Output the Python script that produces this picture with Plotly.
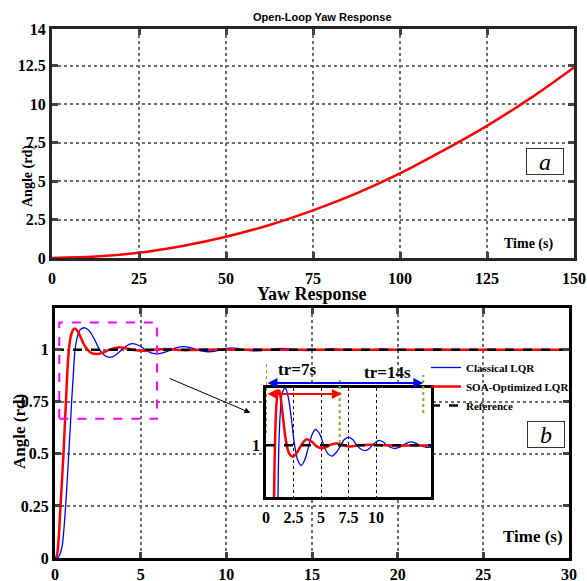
import plotly.graph_objects as go

W, H = 587, 581

# --- data: open-loop yaw response (top panel)
t_open = [0, 12.5, 25, 37.5, 50, 62.5, 75, 87.5, 100, 112.5, 125, 137.5, 150]
yaw_open = [0, 0.09, 0.34, 0.78, 1.38, 2.15, 3.1, 4.2, 5.5, 7.0, 8.6, 10.4, 12.4]

# --- data: closed-loop yaw response (bottom panel)
t_lqr = [0, 0.2, 0.4, 0.5, 0.62, 0.72, 0.8, 0.9, 0.97, 1.07, 1.17, 1.3, 1.46, 1.75, 2.0,
         2.3, 2.6, 2.9, 3.2, 3.5, 3.85, 4.2, 4.5, 4.9, 5.25, 5.6, 6.0, 6.4, 6.75, 7.1,
         7.5, 7.9, 8.25, 8.6, 9.0, 9.35, 9.65, 10.0, 10.3, 10.65, 11.0, 11.35, 11.7,
         12.1, 12.45, 12.8, 13.2, 13.6, 14.0, 14.4, 14.8, 15.5, 16.2, 17.0, 17.7, 18.5,
         19.2, 20.0, 20.7, 21.5, 22.2, 23.0, 23.7, 24.5, 25.2, 26.0, 30.0]
yaw_lqr = [0, 0.005, 0.05, 0.12, 0.25, 0.38, 0.5, 0.64, 0.75, 0.88, 1.0, 1.06, 1.095, 1.105, 1.09,
           1.05, 1.0, 0.972, 0.963, 0.972, 0.996, 1.02, 1.029, 1.02, 1.0, 0.985, 0.98, 0.987, 0.998, 1.01,
           1.015, 1.01, 1.0, 0.993, 0.99, 0.993, 1.0, 1.006, 1.009, 1.006, 1.0, 0.996, 0.994,
           0.996, 1.0, 1.004, 1.006, 1.004, 1.0, 0.997, 0.996, 1.0, 1.004, 1.0, 0.997, 1.0,
           1.003, 1.0, 0.998, 1.0, 1.002, 1.0, 0.9985, 1.0, 1.001, 1.0, 1.0]

t_soa = [0, 0.1, 0.2, 0.3, 0.4, 0.5, 0.62, 0.7, 0.78, 0.87, 0.97, 1.1, 1.2, 1.35, 1.55,
         1.8, 2.1, 2.45, 2.8, 3.2, 3.7, 4.2, 4.6, 5.1, 5.5, 5.9, 6.4, 6.9, 7.4, 7.9, 8.4,
         9.5, 11.0, 30.0]
yaw_soa = [0, 0.01, 0.08, 0.22, 0.36, 0.51, 0.72, 0.86, 0.97, 1.04, 1.08, 1.10, 1.10, 1.085, 1.05,
           1.01, 0.985, 0.979, 0.986, 1.0, 1.011, 1.006, 0.998, 0.9945, 0.997, 1.001, 1.003, 1.001, 0.998, 0.998, 1.0,
           1.001, 1.0, 1.0]

t_ref = [0, 30]
yaw_ref = [1, 1]

# axis ticks
top_xticks = [0, 25, 50, 75, 100, 125, 150]
top_yticks = [0, 2.5, 5, 7.5, 10, 12.5, 14.9]
top_ytext = ["0", "2.5", "5", "7.5", "10", "12.5", "14"]
bot_xticks = [0, 5, 10, 15, 20, 25, 30]
bot_yticks = [0, 0.25, 0.5, 0.75, 1]
bot_ytext = ["0", "0.25", "0.5", "0.75", "1"]
ins_xticks = [0, 2.5, 5, 7.5, 10]


def px(x):
    return x / W


def py(y):
    return 1 - y / H


SERIF = "Liberation Serif"
tickfont = dict(family=SERIF, size=16, color="black", weight="bold")
BLUE = "#0000ff"
RED = "#ff0000"

fig = go.Figure()

# top panel
fig.add_trace(go.Scatter(x=t_open, y=yaw_open, mode="lines", line=dict(color=RED, width=2.5, shape="spline"),
                         showlegend=False, xaxis="x", yaxis="y"))

# bottom panel
fig.add_trace(go.Scatter(x=t_lqr, y=yaw_lqr, mode="lines", name="Classical LQR",
                         line=dict(color=BLUE, width=1.3, shape="spline"), xaxis="x2", yaxis="y2"))
fig.add_trace(go.Scatter(x=t_soa, y=yaw_soa, mode="lines", name="SOA-Optimized LQR",
                         line=dict(color=RED, width=2.5, shape="spline"), xaxis="x2", yaxis="y2"))
fig.add_trace(go.Scatter(x=t_ref, y=yaw_ref, mode="lines", name="Reference",
                         line=dict(color="black", width=2.5, dash="dash"), xaxis="x2", yaxis="y2"))

# inset (zoom on the transient)
fig.add_trace(go.Scatter(x=t_lqr, y=yaw_lqr, mode="lines", showlegend=False,
                         line=dict(color=BLUE, width=1.3, shape="spline"), xaxis="x3", yaxis="y3"))
fig.add_trace(go.Scatter(x=t_soa, y=yaw_soa, mode="lines", showlegend=False,
                         line=dict(color=RED, width=2.5, shape="spline"), xaxis="x3", yaxis="y3"))
fig.add_trace(go.Scatter(x=t_ref, y=yaw_ref, mode="lines", showlegend=False,
                         line=dict(color="black", width=2.5, dash="dash"), xaxis="x3", yaxis="y3"))

main_ax = dict(showline=True, mirror="allticks", ticks="inside", ticklen=6, tickwidth=3,
               showgrid=True, griddash="dot", gridcolor="#6e6e6e", gridwidth=2,
               zeroline=False, tickfont=tickfont, automargin=False)

fig.update_layout(
    template="none",
    width=W, height=H,
    margin=dict(l=0, r=0, t=0, b=0),
    paper_bgcolor="white", plot_bgcolor="white",
    xaxis=dict(main_ax, domain=[px(52), px(574)], range=[0, 150], tickvals=top_xticks,
               linecolor="#262626", linewidth=3, anchor="y", ticklabelstandoff=4),
    yaxis=dict(main_ax, domain=[py(258), py(29)], range=[0, 14.9], tickvals=top_yticks,
               ticktext=top_ytext, linecolor="#262626", linewidth=3, anchor="x"),
    xaxis2=dict(main_ax, domain=[px(55), px(569)], range=[0, 30], tickvals=bot_xticks,
                linecolor="black", linewidth=3, anchor="y2", ticklabelstandoff=0),
    yaxis2=dict(main_ax, domain=[py(558), py(308)], range=[0, 1.2], tickvals=bot_yticks,
                ticktext=bot_ytext, linecolor="black", linewidth=3, anchor="x2"),
    xaxis3=dict(domain=[px(266), px(431)], range=[0, 15], tickvals=ins_xticks, showline=True,
                mirror=True, linecolor="black", linewidth=2.5, ticks="", showgrid=True,
                griddash="dot", gridcolor="black", gridwidth=1, zeroline=False,
                tickfont=tickfont, anchor="y3", automargin=False, ticklabelstandoff=4),
    yaxis3=dict(domain=[py(497), py(388)], range=[0.905, 1.105], tickvals=[1], showline=True,
                mirror=True, linecolor="black", linewidth=2.5, ticks="", showgrid=False,
                zeroline=False, tickfont=tickfont, anchor="x3", automargin=False),
    legend=dict(x=px(426), y=py(353), xanchor="left", yanchor="top", bgcolor="rgba(0,0,0,0)",
                font=dict(family=SERIF, size=11, color="black", weight="bold"), tracegroupgap=0,
                itemwidth=30, borderwidth=0),
    showlegend=True,
)


def label(text, x, y, size, family=SERIF, angle=0):
    return dict(text=text, x=px(x), y=py(y), xref="paper", yref="paper", xanchor="center",
                yanchor="middle", textangle=angle, showarrow=False,
                font=dict(family=family, size=size, color="black"))


ann = []
# titles
ann.append(label("<b>Open-Loop Yaw Response</b>", 322, 17, 11, family="Liberation Sans"))
ann.append(label("<b>Yaw Response</b>", 312, 294, 18))
# axis titles
ann.append(label("<b>Angle (rd)</b>", 28, 176, 14, angle=-90))
ann.append(label("<b>Angle (rd)</b>", 19, 432, 17, angle=-90))
ann.append(label("<b>Time (s)</b>", 528, 244, 14))
ann.append(label("<b>Time (s)</b>", 533, 536, 17))
# panel labels
for lab, cx, cy in [("a", 545, 161), ("b", 546, 434)]:
    a = label("<i>%s</i>" % lab, cx, cy, 24)
    a.update(width=36, height=25, borderpad=0, bordercolor="#333", borderwidth=1, bgcolor="white")
    ann.append(a)
# arrow from dashed box to inset
ann.append(dict(x=11.4, y=0.697, ax=6.6, ay=0.865, xref="x2", yref="y2", axref="x2", ayref="y2",
                showarrow=True, arrowhead=2, arrowsize=1.2, arrowwidth=1, arrowcolor="black", text=""))
# rise-time arrows in the inset
ann.append(dict(x=14.3, y=py(383), ax=0, ay=0, xref="x3", yref="paper", axref="x3", ayref="pixel",
                showarrow=True, arrowside="end+start", arrowhead=2, startarrowhead=2, arrowsize=1,
                startarrowsize=1, arrowwidth=2, arrowcolor=BLUE, text=""))
ann.append(dict(x=6.9, y=py(394), ax=0, ay=0, xref="x3", yref="paper", axref="x3", ayref="pixel",
                showarrow=True, arrowside="end+start", arrowhead=2, startarrowhead=2, arrowsize=1,
                startarrowsize=1, arrowwidth=2, arrowcolor=RED, text=""))
ann.append(label("<b>tr=7s</b>", 297, 369, 17))
ann.append(label("<b>tr=14s</b>", 387, 372, 17))
fig.update_layout(annotations=ann)

shapes = []
# zoom window on the main plot
shapes.append(dict(type="rect", xref="x2", yref="y2", x0=0.25, x1=5.95, y0=0.668, y1=1.13,
                   line=dict(color="#ff00ff", width=2, dash="dash")))
# green rise-time markers
for tx, y0, y1 in [(0, 433, 363), (6.7, 443, 377), (14.3, 413, 375)]:
    shapes.append(dict(type="line", xref="x3", yref="paper", x0=tx, x1=tx, y0=py(y0), y1=py(y1),
                       line=dict(color="#77b52e", width=2, dash="dot")))
fig.update_layout(shapes=shapes)

# page body has a default 8px margin; drop it so the figure sits at the window corner
fig.write_html("out.html", config={"displayModeBar": False},
               post_script="document.body.style.margin='0';")
